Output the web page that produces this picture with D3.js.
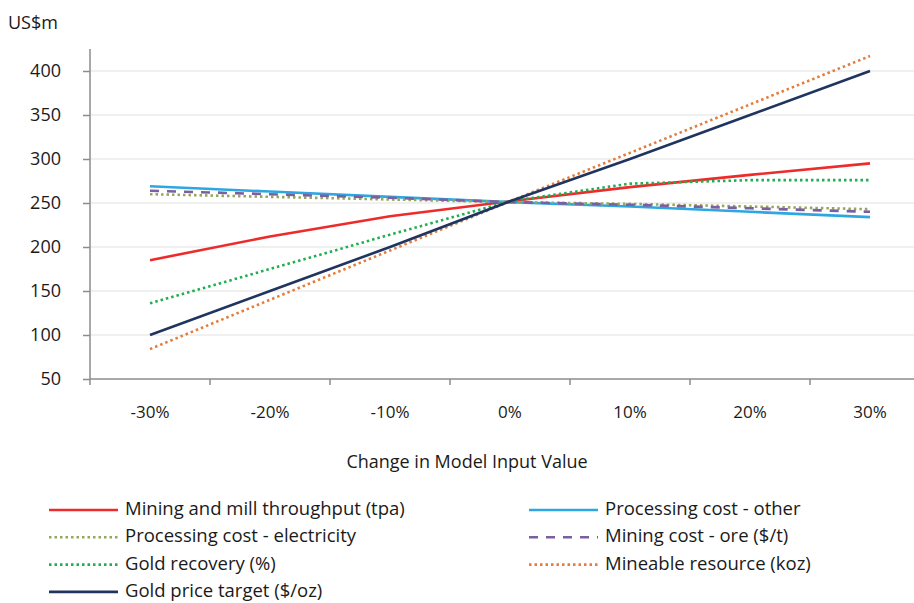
<!DOCTYPE html>
<html>
<head>
<meta charset="utf-8">
<script src="https://cdn.jsdelivr.net/npm/d3@7"></script>
<style>
  body { margin: 0; background: #ffffff; }
  text { font-family: "Open Sans", sans-serif; fill: #1a1a1a; }
</style>
</head>
<body>
<div id="canvas"></div>
<script>
"use strict"
let svgWidth = 914;
let svgHeight = 603;

let marginLeft = 90;
let marginTop = 71;

// categories on the x axis
let changes = ["-30%", "-20%", "-10%", "0%", "10%", "20%", "30%"];

// y axis ticks
let yTicks = [50, 100, 150, 200, 250, 300, 350, 400];

// series names, in the order the chart draws them
let seriesNames = [
    "Mining and mill throughput (tpa)",
    "Processing cost - other",
    "Processing cost - electricity",
    "Mining cost - ore ($/t)",
    "Gold recovery (%)",
    "Mineable resource (koz)",
    "Gold price target ($/oz)"
];

// values in US$m, one per category
let throughput  = [185, 212, 235, 252, 268, 282, 295];
let procOther   = [269, 263, 257, 251, 246, 240, 234];
let procElec    = [260, 257, 254, 251, 249, 246, 243];
let miningOre   = [264, 260, 256, 251, 248, 244, 240];
let goldRecov   = [136, 175, 214, 252, 272, 276, 276];
let mineableRes = [84, 140, 196, 252, 307, 362, 417];
let goldPrice   = [100, 150, 200, 252, 300, 350, 400];

let seriesValues = [throughput, procOther, procElec, miningOre, goldRecov, mineableRes, goldPrice];

// line styles for each series
let lineStyles = [
    {color: "#ee2b2b", dash: null},
    {color: "#2ea7e0", dash: null},
    {color: "#93a85a", dash: "2.5,3"},
    {color: "#7b5fa0", dash: "9,8"},
    {color: "#1fae52", dash: "2.5,3"},
    {color: "#e27d3c", dash: "2.5,3"},
    {color: "#1f3560", dash: null}
];

let svg = d3.select("#canvas")
    .append("svg")
    .attr("width", svgWidth)
    .attr("height", svgHeight);

// category axis: bands run past the right edge, the picture is cut there
let xScale = d3.scaleBand()
    .domain(changes)
    .range([marginLeft, marginLeft + 7 * 120]);

let yScale = d3.scaleLinear()
    .domain([50, 400])
    .range([379, marginTop]);

// light gridlines
svg.append("g")
    .selectAll("line")
    .data(yTicks.slice(1))
    .join("line")
    .attr("x1", marginLeft)
    .attr("x2", svgWidth)
    .attr("y1", function(d) { return yScale(d); })
    .attr("y2", function(d) { return yScale(d); })
    .attr("stroke", "#f0f0f0")
    .attr("stroke-width", 2);

// y axis
let yAxis = svg.append("g")
    .attr("transform", "translate(" + marginLeft + ",0)")
    .call(d3.axisLeft(yScale).tickValues(yTicks).tickSize(7).tickPadding(22));
yAxis.select(".domain")
    .attr("d", "M0," + (yScale(400) - 22) + "V" + yScale(50))
    .attr("stroke", "#8c8c8c")
    .attr("stroke-width", 1.5);
yAxis.selectAll(".tick line").attr("stroke", "#8c8c8c").attr("stroke-width", 1.5);
yAxis.selectAll(".tick text")
    .attr("font-size", 18)
    .attr("font-family", "'Open Sans', sans-serif")
    .attr("fill", "#1a1a1a");

// x axis: ticks sit between the categories
let xAxisY = yScale(50);
let xAxis = svg.append("g")
    .attr("transform", "translate(0," + xAxisY + ")")
    .call(d3.axisBottom(xScale).tickSize(0).tickPadding(27));
xAxis.select(".domain")
    .attr("d", "M" + marginLeft + ",0H" + svgWidth)
    .attr("stroke", "#8c8c8c")
    .attr("stroke-width", 1.5);
xAxis.selectAll(".tick text")
    .attr("font-size", 17)
    .attr("font-family", "'Open Sans', sans-serif")
    .attr("fill", "#1a1a1a");
xAxis.selectAll(".boundary")
    .data(changes)
    .join("line")
    .attr("class", "boundary")
    .attr("x1", function(d) { return xScale(d); })
    .attr("x2", function(d) { return xScale(d); })
    .attr("y1", 0)
    .attr("y2", 6)
    .attr("stroke", "#8c8c8c")
    .attr("stroke-width", 1.5);

// axis titles
svg.append("text")
    .attr("x", 8)
    .attr("y", 29)
    .attr("font-size", 18)
    .text("US$m");

svg.append("text")
    .attr("x", 467)
    .attr("y", 468)
    .attr("text-anchor", "middle")
    .attr("font-size", 18)
    .text("Change in Model Input Value");

// the series lines
let line = d3.line()
    .x(function(d, i) { return xScale(changes[i]) + xScale.bandwidth() / 2; })
    .y(function(d) { return yScale(d); });

for (let i = 0; i < seriesValues.length; i++) {
    svg.append("path")
        .datum(seriesValues[i])
        .attr("d", line)
        .attr("fill", "none")
        .attr("stroke", lineStyles[i].color)
        .attr("stroke-width", 2.6)
        .attr("stroke-dasharray", lineStyles[i].dash);
}

// legend, two columns filled row by row
for (let i = 0; i < seriesNames.length; i++) {
    let col = i % 2;
    let row = Math.floor(i / 2);
    let lx = col == 0 ? 49 : 529;
    let ly = 510 + row * 27.3;

    svg.append("line")
        .attr("x1", lx)
        .attr("x2", lx + 69)
        .attr("y1", ly)
        .attr("y2", ly)
        .attr("stroke", lineStyles[i].color)
        .attr("stroke-width", 2.6)
        .attr("stroke-dasharray", lineStyles[i].dash);

    svg.append("text")
        .attr("x", lx + 76)
        .attr("y", ly)
        .attr("dominant-baseline", "middle")
        .attr("font-size", 18.5)
        .text(seriesNames[i]);
}
</script>
</body>
</html>
